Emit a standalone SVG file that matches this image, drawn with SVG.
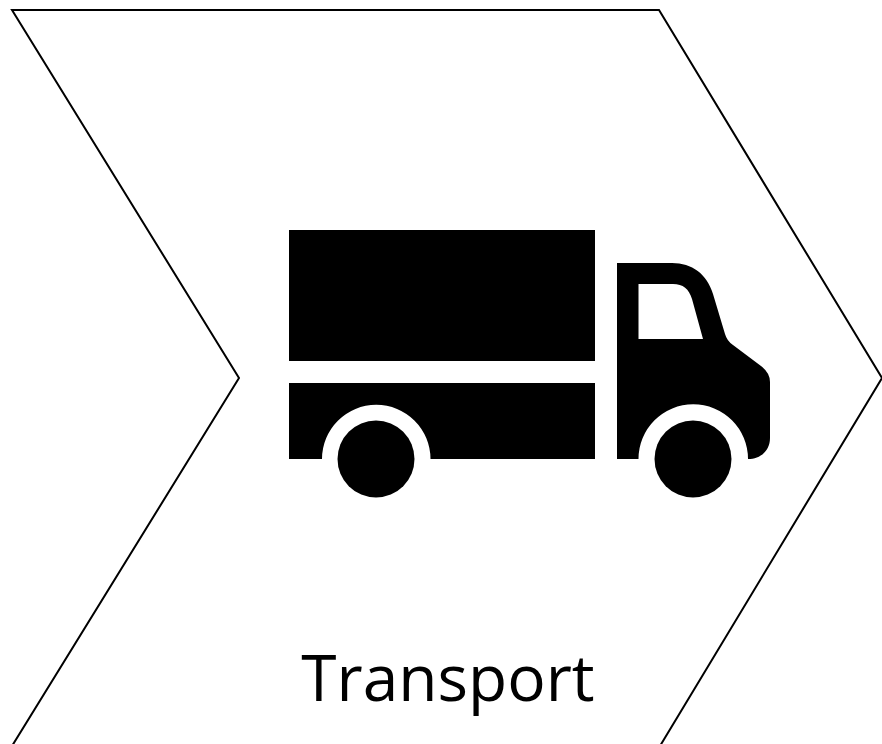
<svg xmlns="http://www.w3.org/2000/svg" width="882" height="744" viewBox="0 0 882 744">
<style>.i{fill:#000}.o{fill:#fff;stroke:#000;stroke-width:2}text{font-family:"Open Sans","Liberation Sans",sans-serif;font-size:64px;fill:#000}</style>
<rect width="882" height="744" fill="#fff"/>
<g id="chevron"><path class="o" d="M12 10H659L882 378L660 746H12L239 378Z"/></g>
<g id="truck">
<rect class="i" x="289" y="230" width="306" height="131"/>
<path class="i" d="M289 383H595V459H430.500A54.250 54.250 0 0 0 322 459H289Z"/>
<circle class="i" cx="376" cy="459" r="38.500"/>
<path class="i" fill-rule="evenodd" d="M617 263H672C692 263 707 274 713 294L725 334Q727 341 733 345L761 366Q770 373 770 382V438C770 451 760 459 748 459A54.500 54.500 0 0 0 638.500 459H617ZM638.500 284V339H703L692 299C689 289 683 284 673 284Z"/>
<circle class="i" cx="693" cy="459" r="38.500"/>
</g>
<g id="label"><text x="448" y="701" text-anchor="middle">Transport</text></g>
</svg>
